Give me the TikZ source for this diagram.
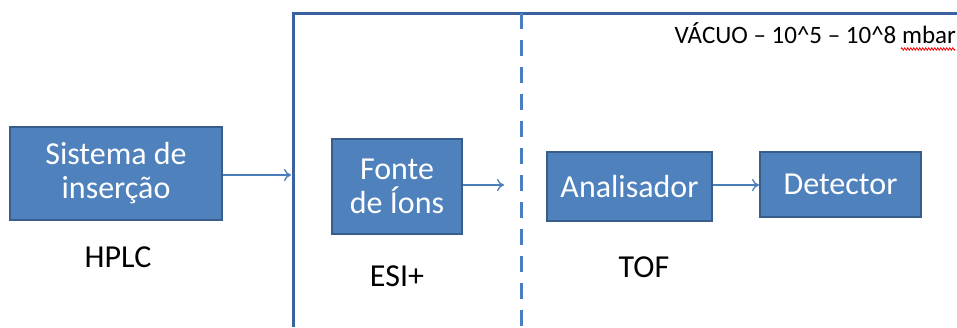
\documentclass[tikz,border=0pt]{standalone}
\usepackage{fontspec}
\setmainfont{Carlito}
\usetikzlibrary{arrows.meta,decorations.pathmorphing}
\definecolor{boxfill}{HTML}{4F81BD}
\definecolor{boxedge}{HTML}{385D8A}
\definecolor{frameblue}{HTML}{3A62A0}
\definecolor{dashblue}{HTML}{4A7EC0}
\definecolor{arrowblue}{HTML}{4A7EBB}
\tikzset{
  blockbox/.style={draw=boxedge, line width=2pt, fill=boxfill, text=white,
    font=\fontsize{32}{34}\selectfont, align=center, inner sep=0pt},
  flowarrow/.style={draw=arrowblue, line width=1.3pt, -{To[length=7pt,width=12pt]}},
  plainlabel/.style={font=\fontsize{32}{34}\selectfont, text=black, inner sep=0pt}
}
\begin{document}
\begin{tikzpicture}[x=1pt,y=-1pt]
\useasboundingbox (0,0) rectangle (957,327);
% frame
\draw[frameblue, line width=3pt] (293,327) -- (293,13) -- (957,13);
\draw[dashblue, line width=3pt, dash pattern=on 16pt off 11pt] (521,13) -- (521,327);
% boxes
\node[blockbox, minimum width=212pt, minimum height=93pt] (sis) at (116,173.5) {Sistema de\\inserção};
\node[blockbox, minimum width=130pt, minimum height=95pt] (fon) at (397,186.5) {Fonte\\de Íons};
\node[blockbox, minimum width=165pt, minimum height=69pt] (ana) at (629.5,186.5) {Analisador};
\node[blockbox, minimum width=161pt, minimum height=65pt] (det) at (840.5,184.5) {Detector};
% arrow ends
\coordinate (wall) at (291,175);
\coordinate (gap) at (504,185);
\draw[flowarrow] (sis.east |- wall) -- (wall);
\draw[flowarrow] (fon.east |- gap) -- (gap);
\draw[flowarrow] (ana.east |- 0,185) -- (det.west |- 0,185);
% labels
\node[plainlabel] (hplc) at (118,257) {HPLC};
\node[plainlabel] (esi) at (397,276) {ESI+};
\node[plainlabel] (tof) at (644,267) {TOF};
\node[font=\fontsize{25}{27}\selectfont, inner sep=0pt, anchor=east] (vac) at (956,33) {VÁCUO – 10\textasciicircum 5 – 10\textasciicircum 8 mbar};
\draw[red, line width=0.8pt, decorate, decoration={zigzag, amplitude=1.2pt, segment length=3pt}] (901,49) -- (955,49);
\end{tikzpicture}
\end{document}
